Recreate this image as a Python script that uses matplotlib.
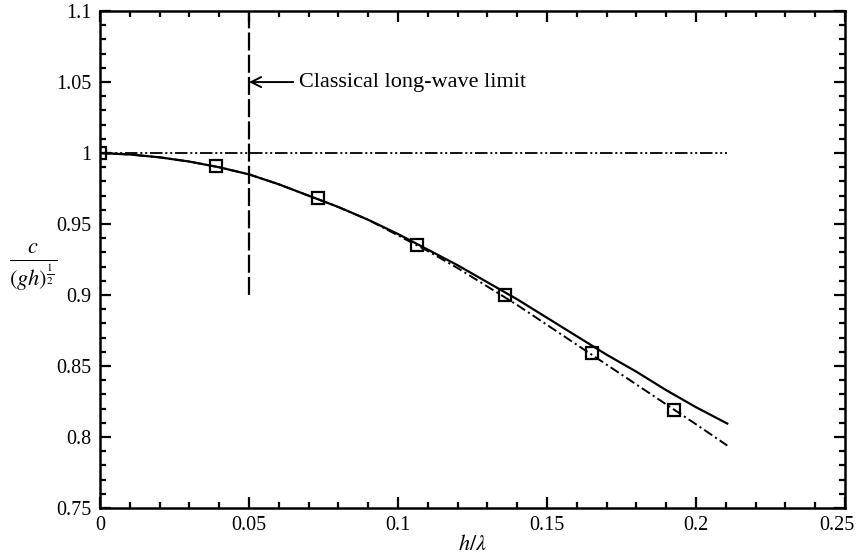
import numpy as np
import matplotlib
matplotlib.use("Agg")
import matplotlib.pyplot as plt
import matplotlib.transforms as mtransforms
from matplotlib.ticker import MultipleLocator, FuncFormatter

plt.rcParams['font.family'] = ['Liberation Serif', 'DejaVu Serif']
plt.rcParams['mathtext.fontset'] = 'stix'
plt.rcParams['lines.scale_dashes'] = False

# datos
x_curva = [0, 0.01, 0.02, 0.03, 0.04, 0.05, 0.06, 0.07, 0.08, 0.09, 0.10,
           0.11, 0.12, 0.13, 0.14, 0.15, 0.16, 0.17, 0.18, 0.19, 0.20, 0.2105]
c_solida = [1.0, 0.999, 0.997, 0.994, 0.990, 0.985, 0.978, 0.970, 0.962, 0.953, 0.943,
            0.932, 0.921, 0.909, 0.897, 0.884, 0.871, 0.858, 0.846, 0.833, 0.821, 0.8095]
c_rayapunto = [1.0, 0.999, 0.997, 0.994, 0.990, 0.985, 0.978, 0.970, 0.962, 0.953, 0.942,
               0.931, 0.919, 0.906, 0.893, 0.879, 0.865, 0.851, 0.837, 0.823, 0.809, 0.794]
x_puntos = [0, 0.039, 0.073, 0.1065, 0.136, 0.165, 0.1925]
c_puntos = [1.0, 0.991, 0.968, 0.935, 0.900, 0.859, 0.819]
x_limite = 0.05
x_horizontal = [0, 0.2105]
c_horizontal = [1.0, 1.0]
x_ticks = [0, 0.05, 0.1, 0.15, 0.2, 0.25]
y_ticks = [0.75, 0.8, 0.85, 0.9, 0.95, 1.0, 1.05, 1.1]

fig = plt.figure(figsize=(8.59, 5.54), dpi=100)
ax = fig.add_axes([0.1164, 0.083, 0.8673, 0.897])

ax.plot(x_horizontal, c_horizontal, color='black', lw=1.3, dashes=(9, 2, 1.5, 2, 1.5, 2))
ax.plot([x_limite, x_limite], [0.9, 1.1], color='black', lw=1.6, dashes=(13, 3))
ax.plot(x_curva, c_rayapunto, color='black', lw=1.4, dashes=(7, 2.5, 1.5, 2.5))
ax.plot(x_curva, c_solida, color='black', lw=1.6)
ax.plot(x_puntos, c_puntos, ls='none', marker='s', ms=9, mfc='none', mec='black', mew=1.6)

ax.annotate('Classical long-wave limit', xy=(x_limite, 1.05), xytext=(0.0667, 1.05),
            fontsize=16, va='center', ha='left',
            arrowprops=dict(arrowstyle='->', color='black', lw=1.4, shrinkA=2, shrinkB=0,
                            mutation_scale=18))

ax.set_xlim(0, 0.25)
ax.set_ylim(0.75, 1.1)
ax.set_xticks(x_ticks)
ax.set_yticks(y_ticks)
ax.xaxis.set_minor_locator(MultipleLocator(0.01))
ax.yaxis.set_minor_locator(MultipleLocator(0.01))
fmt = FuncFormatter(lambda v, p: '%g' % round(v, 3))
ax.xaxis.set_major_formatter(fmt)
ax.yaxis.set_major_formatter(fmt)
ax.tick_params(which='both', direction='in', top=True, right=True, labelsize=14.5, width=1.6)
ax.tick_params(which='major', length=8, pad=6)
ax.tick_params(which='minor', length=4.5)
for s in ax.spines.values():
    s.set_linewidth(1.8)

# la ultima etiqueta del eje x un poco a la izquierda para que no se corte
ultima = ax.get_xticklabels()[-1]
ultima.set_transform(ultima.get_transform() + mtransforms.ScaledTranslation(-6 / 72, 0, fig.dpi_scale_trans))

ax.set_xlabel(r'$h/\lambda$', fontsize=16, labelpad=0)
fig.text(0.038, 0.516, r'$\frac{c}{(gh)^{\frac{1}{2}}}$', fontsize=23, ha='center', va='center')

plt.savefig("out.png", dpi=100)
